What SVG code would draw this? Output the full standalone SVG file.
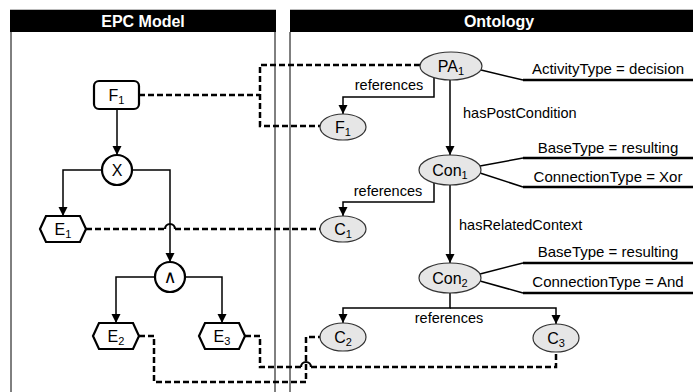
<svg xmlns="http://www.w3.org/2000/svg" width="693" height="392" viewBox="0 0 693 392">
  <style>
    text { font-family: "Liberation Sans", Arial, sans-serif; fill: #000; }
    .hdr { font-size: 16px; font-weight: bold; fill: #fff; text-anchor: middle; }
    .lbl { font-size: 14.5px; }
    .attr { font-size: 15px; text-anchor: middle; }
    .nl { font-size: 16px; text-anchor: middle; }
    .sub { font-size: 11px; }
    .panel { stroke: #000; stroke-width: 1; fill: none; }
    .epc { fill: #fff; stroke: #000; stroke-width: 2.2; }
    .ont { fill: #e6e6e6; stroke: #333; stroke-width: 1.2; }
    .flow { fill: none; stroke: #000; stroke-width: 1.5; }
    .ref { fill: none; stroke: #000; stroke-width: 2.5; stroke-dasharray: 6 3; }
    .hop { fill: none; stroke: #000; stroke-width: 2.2; }
    .attrline { fill: none; stroke: #000; stroke-width: 1.5; }
    .attrbar { fill: none; stroke: #000; stroke-width: 2.4; }
  </style>
  <defs>
    <marker id="arrow" viewBox="0 0 10 10" refX="10" refY="5" markerWidth="9" markerHeight="10" markerUnits="userSpaceOnUse" orient="auto">
      <path d="M0,0 L10,5 L0,10 z" fill="#000"/>
    </marker>
  </defs>

  <!-- panels -->
  <g id="panels">
    <line x1="10" y1="9.5" x2="276" y2="9.5" stroke="#bbb" stroke-width="1"/>
    <line x1="290" y1="9.5" x2="693" y2="9.5" stroke="#bbb" stroke-width="1"/>
    <rect x="10" y="10" width="266" height="22" fill="#000"/>
    <rect x="290" y="10" width="403" height="22" fill="#000"/>
    <text class="hdr" x="143" y="27">EPC Model</text>
    <text class="hdr" x="499" y="27">Ontology</text>
    <line class="panel" x1="11" y1="32" x2="11" y2="392"/>
    <line class="panel" x1="275" y1="32" x2="275" y2="392"/>
    <line class="panel" x1="290" y1="32" x2="290" y2="392"/>
  </g>

  <!-- connectors -->
  <g id="connectors">
    <!-- EPC control flow -->
    <path class="flow" d="M117 109 V155" marker-end="url(#arrow)"/>
    <path class="flow" d="M102 170 H63 V216" marker-end="url(#arrow)"/>
    <path class="flow" d="M132 170 H170 V262" marker-end="url(#arrow)"/>
    <path class="flow" d="M155 277 H116 V323" marker-end="url(#arrow)"/>
    <path class="flow" d="M185 277 H222 V323" marker-end="url(#arrow)"/>

    <!-- ontology relations -->
    <path class="flow" d="M434 78 V97 H343 V114" marker-end="url(#arrow)"/>
    <path class="flow" d="M450 80 V155" marker-end="url(#arrow)"/>
    <path class="flow" d="M434 183 V202 H343 V216" marker-end="url(#arrow)"/>
    <path class="flow" d="M450 185 V263" marker-end="url(#arrow)"/>
    <path class="flow" d="M450 293 V308 H343 V323" marker-end="url(#arrow)"/>
    <path class="flow" d="M450 308 H556 V324" marker-end="url(#arrow)"/>

    <!-- attribute lines -->
    <path class="attrline" d="M481 70 L523 80"/>
    <path class="attrbar" d="M523 80 H693"/>
    <path class="attrline" d="M480 166 L523 158"/>
    <path class="attrbar" d="M523 158 H693"/>
    <path class="attrline" d="M480 173 L523 187"/>
    <path class="attrbar" d="M523 187 H693"/>
    <path class="attrline" d="M480 274 L523 263"/>
    <path class="attrbar" d="M523 263 H693"/>
    <path class="attrline" d="M480 281 L523 293"/>
    <path class="attrbar" d="M523 293 H693"/>

    <!-- EPC element to ontology instance mappings -->
    <path class="ref" d="M139 95 H260"/>
    <path class="ref" d="M420 65 H260 V126 H320"/>
    <path class="ref" d="M86 229 H165"/>
    <path class="hop" d="M165 229 A5 5 0 0 1 175 229"/>
    <path class="ref" d="M175 229 H321"/>
    <path class="ref" d="M139 336 H154 V382 H306 V337 H320"/>
    <path class="ref" d="M245 336 H260 V367 H301"/>
    <path class="hop" d="M301 367 A5 5 0 0 1 311 367"/>
    <path class="ref" d="M311 367 H556 V352"/>
  </g>

  <!-- edge labels -->
  <g id="edge-labels">
    <text class="lbl" x="389" y="90" text-anchor="middle">references</text>
    <text class="lbl" x="463" y="118">hasPostCondition</text>
    <text class="lbl" x="388" y="196" text-anchor="middle">references</text>
    <text class="lbl" x="459" y="230">hasRelatedContext</text>
    <text class="lbl" x="449" y="323" text-anchor="middle">references</text>
    <text class="attr" x="608" y="74">ActivityType = decision</text>
    <text class="attr" x="608" y="153">BaseType = resulting</text>
    <text class="attr" x="608" y="182">ConnectionType = Xor</text>
    <text class="attr" x="608" y="257">BaseType = resulting</text>
    <text class="attr" x="608" y="287">ConnectionType = And</text>
  </g>

  <!-- EPC nodes -->
  <g id="epc-F1">
    <rect class="epc" x="94" y="81" width="45" height="28" rx="5"/>
    <text class="nl" x="116.5" y="101">F<tspan class="sub" dy="3">1</tspan></text>
  </g>
  <g id="epc-xor">
    <circle class="epc" cx="117" cy="170" r="15"/>
    <text class="nl" x="117" y="176">X</text>
  </g>
  <g id="epc-E1">
    <path class="epc" d="M40 229 L46 216 H80 L86 229 L80 242 H46 Z"/>
    <text class="nl" x="63" y="235">E<tspan class="sub" dy="3">1</tspan></text>
  </g>
  <g id="epc-and">
    <circle class="epc" cx="170" cy="277" r="15"/>
    <text class="nl" x="170" y="283" style="font-family: 'DejaVu Sans', sans-serif; font-size: 18px;">∧</text>
  </g>
  <g id="epc-E2">
    <path class="epc" d="M93 336 L99 323 H133 L139 336 L133 349 H99 Z"/>
    <text class="nl" x="116" y="342">E<tspan class="sub" dy="3">2</tspan></text>
  </g>
  <g id="epc-E3">
    <path class="epc" d="M199 336 L205 323 H239 L245 336 L239 349 H205 Z"/>
    <text class="nl" x="222" y="342">E<tspan class="sub" dy="3">3</tspan></text>
  </g>

  <!-- ontology nodes -->
  <g id="ont-PA1">
    <ellipse class="ont" cx="451" cy="66" rx="31" ry="14"/>
    <text class="nl" x="451" y="72">PA<tspan class="sub" dy="3">1</tspan></text>
  </g>
  <g id="ont-F1">
    <ellipse class="ont" cx="343" cy="127" rx="23" ry="13"/>
    <text class="nl" x="343" y="133">F<tspan class="sub" dy="3">1</tspan></text>
  </g>
  <g id="ont-Con1">
    <ellipse class="ont" cx="450" cy="170" rx="31" ry="15"/>
    <text class="nl" x="450" y="176">Con<tspan class="sub" dy="3">1</tspan></text>
  </g>
  <g id="ont-C1">
    <ellipse class="ont" cx="343" cy="229" rx="23" ry="13"/>
    <text class="nl" x="343" y="235">C<tspan class="sub" dy="3">1</tspan></text>
  </g>
  <g id="ont-Con2">
    <ellipse class="ont" cx="450" cy="278" rx="31" ry="15"/>
    <text class="nl" x="450" y="284">Con<tspan class="sub" dy="3">2</tspan></text>
  </g>
  <g id="ont-C2">
    <ellipse class="ont" cx="343" cy="337" rx="23" ry="14"/>
    <text class="nl" x="343" y="343">C<tspan class="sub" dy="3">2</tspan></text>
  </g>
  <g id="ont-C3">
    <ellipse class="ont" cx="556" cy="338" rx="23" ry="14"/>
    <text class="nl" x="556" y="344">C<tspan class="sub" dy="3">3</tspan></text>
  </g>
</svg>
